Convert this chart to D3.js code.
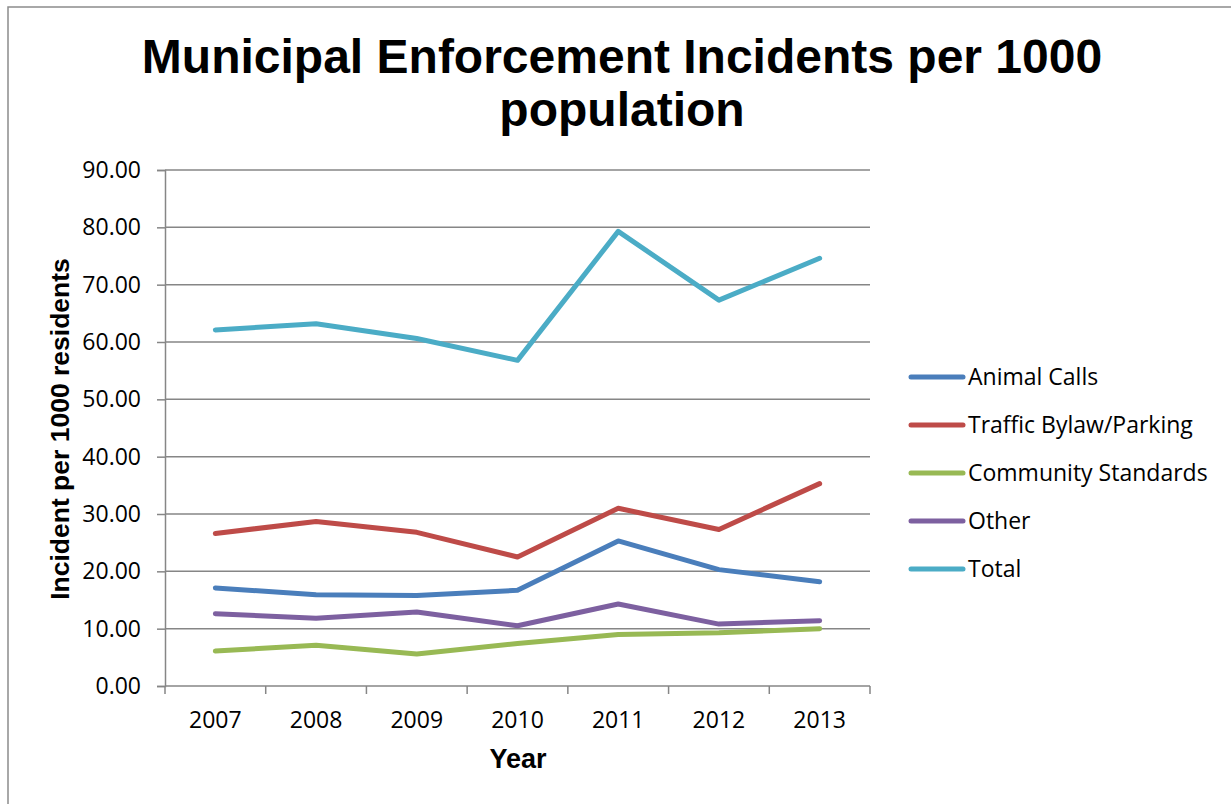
<!DOCTYPE html>
<html>
<head>
<meta charset="utf-8">
<script src="https://cdn.jsdelivr.net/npm/d3@7"></script>
<style>
  html, body { margin: 0; padding: 0; background: #fff; }
  svg { display: block; }
</style>
</head>
<body>
<svg id="chart" width="1231" height="804"></svg>
<script>
// Incidents per 1000 residents, by year
const years = ["2007", "2008", "2009", "2010", "2011", "2012", "2013"];
const animalCalls = [17.1, 15.9, 15.8, 16.7, 25.3, 20.3, 18.2];
const trafficParking = [26.6, 28.7, 26.8, 22.5, 31.0, 27.3, 35.3];
const communityStandards = [6.1, 7.1, 5.6, 7.4, 9.0, 9.3, 10.0];
const other = [12.6, 11.8, 12.9, 10.5, 14.3, 10.8, 11.4];
const total = [62.1, 63.2, 60.6, 56.8, 79.3, 67.3, 74.6];
const yTicks = [0, 10, 20, 30, 40, 50, 60, 70, 80, 90];

const seriesNames = ["Animal Calls", "Traffic Bylaw/Parking", "Community Standards", "Other", "Total"];
const seriesColors = ["#4A7EBB", "#BE4B48", "#98B954", "#7D60A0", "#4BACC6"];
const seriesValues = [animalCalls, trafficParking, communityStandards, other, total];

const svg = d3.select("#chart");
const font = "'Open Sans', 'Liberation Sans', sans-serif";
const boldFont = "'Liberation Sans', Arial, sans-serif";
const plot = { left: 165, right: 870, top: 170, bottom: 686 };

// outer chart frame
svg.append("rect")
  .attr("x", 8).attr("y", 7)
  .attr("width", 1240).attr("height", 820)
  .attr("fill", "#fff").attr("stroke", "#8c8c8c").attr("stroke-width", 1.5);

// title
const title = svg.append("text")
  .attr("text-anchor", "middle")
  .attr("font-family", boldFont)
  .attr("font-weight", "bold")
  .attr("font-size", 48)
  .attr("fill", "#000");
title.append("tspan").attr("x", 622).attr("y", 73).text("Municipal Enforcement Incidents per 1000");
title.append("tspan").attr("x", 622).attr("y", 126).text("population");

const x = d3.scaleBand().domain(years).range([plot.left, plot.right]).padding(0);
const y = d3.scaleLinear().domain([0, 90]).range([plot.bottom, plot.top]);

// horizontal gridlines
svg.append("g")
  .selectAll("line")
  .data(yTicks.filter(t => t > 0))
  .join("line")
  .attr("x1", plot.left).attr("x2", plot.right)
  .attr("y1", d => y(d)).attr("y2", d => y(d))
  .attr("stroke", "#868686").attr("stroke-width", 1.5);

// y axis
const yAxis = svg.append("g")
  .attr("transform", `translate(${plot.left},0)`)
  .call(d3.axisLeft(y).tickValues(yTicks).tickFormat(d3.format(".2f")).tickSize(8).tickPadding(16));
yAxis.select(".domain").attr("stroke", "#868686").attr("stroke-width", 1.5);
yAxis.selectAll(".tick line").attr("stroke", "#868686").attr("stroke-width", 1.5);
yAxis.selectAll(".tick text")
  .attr("font-family", font).attr("font-size", 23).attr("fill", "#000");

// x axis: ticks at category boundaries, labels centred in each band
const xAxisG = svg.append("g").attr("transform", `translate(0,${plot.bottom})`);
xAxisG.append("line")
  .attr("x1", plot.left).attr("x2", plot.right)
  .attr("stroke", "#868686").attr("stroke-width", 1.5);
const boundaries = years.map(d => x(d)).concat([x(years[years.length - 1]) + x.bandwidth()]);
xAxisG.selectAll("line.tick")
  .data(boundaries)
  .join("line")
  .attr("class", "tick")
  .attr("x1", d => d).attr("x2", d => d)
  .attr("y1", 0).attr("y2", 8)
  .attr("stroke", "#868686").attr("stroke-width", 1.5);
xAxisG.selectAll("text")
  .data(years)
  .join("text")
  .attr("x", d => x(d) + x.bandwidth() / 2)
  .attr("y", 42)
  .attr("text-anchor", "middle")
  .attr("font-family", font).attr("font-size", 23).attr("fill", "#000")
  .text(d => d);

// axis titles
svg.append("text")
  .attr("x", 518).attr("y", 768)
  .attr("text-anchor", "middle")
  .attr("font-family", boldFont)
  .attr("font-weight", "bold").attr("font-size", 27)
  .text("Year");
svg.append("text")
  .attr("transform", "translate(69,429) rotate(-90)")
  .attr("text-anchor", "middle")
  .attr("font-family", boldFont)
  .attr("font-weight", "bold").attr("font-size", 26.5)
  .text("Incident per 1000 residents");

// series lines
const line = d3.line()
  .x((d, i) => x(years[i]) + x.bandwidth() / 2)
  .y(d => y(d));
svg.append("g")
  .selectAll("path")
  .data(seriesValues)
  .join("path")
  .attr("d", d => line(d))
  .attr("fill", "none")
  .attr("stroke", (d, i) => seriesColors[i])
  .attr("stroke-width", 5)
  .attr("stroke-linecap", "round")
  .attr("stroke-linejoin", "round");

// legend
const legend = svg.append("g")
  .selectAll("g")
  .data(seriesNames)
  .join("g")
  .attr("transform", (d, i) => `translate(911,${377 + i * 48})`);
legend.append("line")
  .attr("x1", 0).attr("x2", 52)
  .attr("stroke", (d, i) => seriesColors[i])
  .attr("stroke-width", 5)
  .attr("stroke-linecap", "round");
legend.append("text")
  .attr("x", 57).attr("y", 8)
  .attr("font-family", font).attr("font-size", 23).attr("fill", "#000")
  .text(d => d);
</script>
</body>
</html>
